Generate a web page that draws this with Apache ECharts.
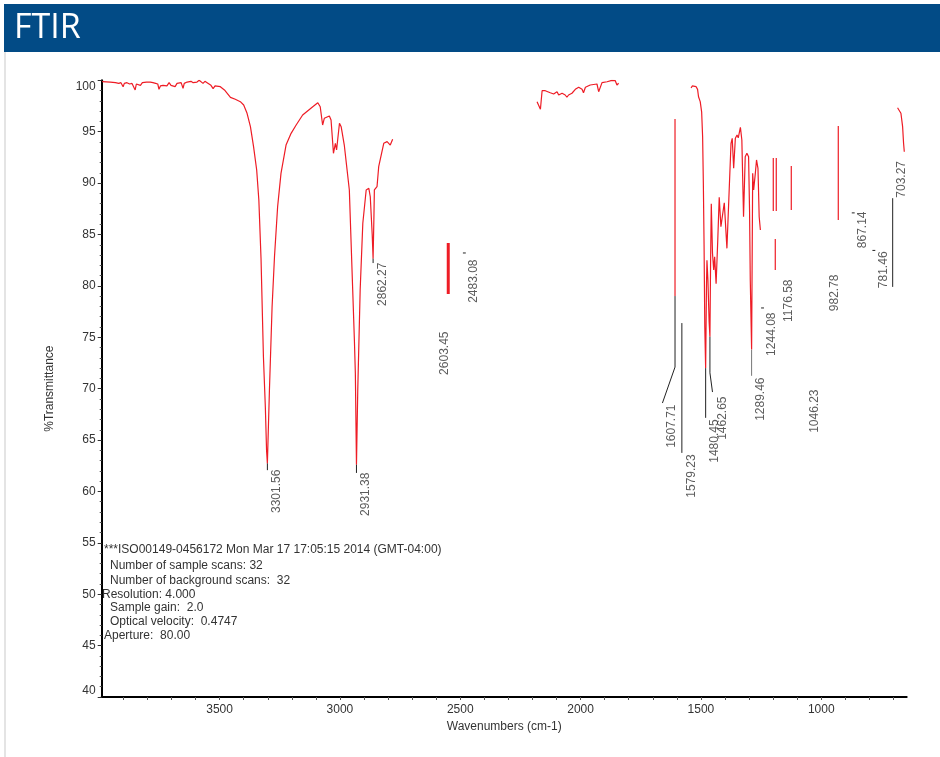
<!DOCTYPE html>
<html><head><meta charset="utf-8">
<script src="https://cdn.jsdelivr.net/npm/echarts@6/dist/echarts.min.js"></script>
<style>html,body{margin:0;padding:0;background:#fff}#c{width:940px;height:757px}</style>
</head><body><div id="c"></div>
<script>
// ---------- DATA ----------
const xLabelValues = [1000, 1500, 2000, 2500, 3000, 3500];
const xTickValues = [700,800,900,1000,1100,1200,1300,1400,1500,1600,1700,1800,1900,2000,2100,2200,2300,2400,2500,2600,2700,2800,2900,3000,3100,3200,3300,3400,3500,3600,3700,3800,3900];

// spectrum segments [wavenumber, %T]
const spectrumA = [[3988,99.87],[3954,99.83],[3933,99.77],[3919,99.70],[3910,99.77],[3901,99.38],[3896,99.70],[3885,99.77],[3874,99.64],[3864,99.70],[3857,99.54],[3851,99.06],[3846,99.64],[3838,99.70],[3829,99.51],[3821,99.77],[3813,99.61],[3804,99.83],[3796,99.64],[3788,99.83],[3777,99.77],[3766,99.70],[3757,99.64],[3752,99.12],[3746,99.45],[3735,99.51],[3727,99.70],[3719,99.45],[3710,99.77],[3702,99.51],[3694,99.70],[3685,99.38],[3677,99.70],[3669,99.54],[3660,99.77],[3652,99.22],[3647,99.70],[3641,99.54],[3635,99.83],[3627,99.64],[3619,99.90],[3610,99.77],[3602,99.96],[3594,99.83],[3585,100.0],[3577,99.90],[3569,99.70],[3561,99.90],[3552,99.77],[3544,99.70],[3536,99.51],[3527,99.19],[3519,99.45],[3511,99.51],[3497,99.38],[3480,99.06],[3455,98.34],[3435,98.15],[3414,97.92],[3400,97.60],[3386,96.79],[3372,95.49],[3359,93.54],[3346,91.27],[3337,88.35],[3328,82.7],[3318,73.1],[3310,68.2],[3305,64.0],[3301.56,62.73],[3293,69.87],[3282,77.97],[3272,82.84],[3259,87.70],[3245,90.95],[3224,93.70],[3203,94.84],[3182,95.65],[3155,96.62],[3113,97.43],[3092,97.82],[3082,97.43],[3072,95.65],[3065,96.30],[3044,96.53],[3037,96.14],[3027,92.90],[3019,93.87],[3014,93.22],[3002,95.82],[2995,95.49],[2982,93.70],[2975,93.54],[2961,89.33],[2947,79.60],[2940,74.73],[2936,71.5],[2931.38,62.6],[2926,69.87],[2916,79.60],[2905,86.09],[2891,89.33],[2880,89.49],[2874,88.67],[2866,85.0],[2862.27,82.65],[2859,86.5],[2857,89.33],[2846,89.65],[2839,91.59],[2818,93.87],[2804,94.03],[2791,93.70],[2781,94.26]];
const spectrumB = [[2181,97.92],[2175,97.76],[2167,97.18],[2160,98.99],[2147,98.99],[2140,99.12],[2126,98.79],[2112,98.67],[2098,98.89],[2091,98.57],[2077,98.74],[2064,98.57],[2057,98.35],[2050,98.57],[2036,98.74],[2022,99.12],[2008,99.32],[1994,99.12],[1988,98.79],[1980,99.32],[1960,99.54],[1932,99.64],[1925,98.89],[1911,99.77],[1890,99.86],[1870,99.99],[1856,99.96],[1849,99.54],[1842,99.71]];
const spectrumC = [[1541,99.25],[1536,99.45],[1530,99.45],[1520,99.38],[1514,99.12],[1510,98.40],[1503,97.92],[1497,96.9],[1493,94.5],[1490,90.0],[1487,84.0],[1484,76.0],[1480.45,72.0],[1477,80.0],[1475,82.5],[1471,80.57],[1466,76.5],[1462.65,75.05],[1460,82.0],[1457,88.0],[1452,83.17],[1447,81.54],[1443,82.84],[1437,80.2],[1430,84.5],[1424,88.62],[1417,85.76],[1410,85.6],[1403,88.09],[1392,83.65],[1384,88.5],[1375,93.87],[1370,94.36],[1364,91.44],[1357,94.36],[1350,94.68],[1345,94.4],[1336,95.43],[1330,94.19],[1323,86.73],[1316,92.57],[1309,92.9],[1302,92.57],[1298,87.38],[1295,80.57],[1289.46,73.8],[1285,90.95],[1281,89.33],[1274,90.95],[1269,92.25],[1263,91.44],[1258,86.73],[1253,85.43]];
const spectrumD = [[683,97.33],[669,96.79],[662,95.49],[658,93.87],[655,93.05]];

// red vertical marks [wavenumber, %T top, %T bottom]
const redMarks = [[1607.71,96.23,79.01],[1199.4,92.44,87.28],[1187.0,92.44,87.28],[1191.1,84.56,81.54],[1124.6,91.66,87.38],[929.3,95.55,86.41]];
const heavyRedMarks = [[2550,84.17,79.21]];

// peak leader paths
const leaderPaths = [
  [[3301.56,62.73],[3301.56,62.07]],
  [[2931.38,62.6],[2931.38,61.8]],
  [[2862.27,82.65],[2862.27,82.22]],
  [[1607.71,79.01],[1607.71,72.10],[1660,68.6]],
  [[1579.23,76.38],[1579.23,63.75]],
  [[1480.45,72.0],[1480.45,67.16]],
  [[1462.65,75.05],[1462.65,71.54],[1452,69.67]],
  [[703.27,79.9],[703.27,88.53]]
];
const greyLeaderPaths = [[[1289.46,73.8],[1289.46,71.25]]];
const dashMarks = [[2483.08,83.2],[1244.08,77.85],[867.14,87.1],[781.46,83.45]];

// peak labels [text, anchor wavenumber, anchor %T]
const peakLabels = [
  ['3301.56',3301.56,62.07],['2931.38',2931.38,61.79],['2862.27',2862.27,82.22],
  ['2603.45',2603.45,75.51],['2483.08',2483.08,82.52],['1607.71',1660,68.41],
  ['1579.23',1579.23,63.56],['1480.45',1480.45,66.96],['1462.65',1449,69.19],
  ['1289.46',1289.46,71.04],['1244.08',1244.08,77.36],['1176.58',1176.58,80.57],
  ['1046.23',1066,69.87],['982.78',982.78,81.06],['867.14',867.14,87.19],
  ['781.46',781.46,83.30],['703.27',703.27,88.53]
];
const upwardLabels = ['703.27'];

const infoLines = [
  '***ISO00149-0456172 Mon Mar 17 17:05:15 2014 (GMT-04:00)',
  'Number of sample scans: 32',
  'Number of background scans:  32',
  'Resolution: 4.000',
  'Sample gain:  2.0',
  'Optical velocity:  0.4747',
  'Aperture:  80.00'
];

// ---------- CHART ----------
const RED = '#ee1c25';
const FONT = '"Liberation Sans", Arial, sans-serif';
const DASH_HALF = 6;
const chart = echarts.init(document.getElementById('c'));
const series = [];
[spectrumA, spectrumB, spectrumC, spectrumD].forEach(seg => series.push({
  type:'line', data:seg, symbol:'none', silent:true, lineStyle:{color:RED,width:1.2}
}));
redMarks.forEach(m => series.push({type:'line', data:[[m[0],m[1]],[m[0],m[2]]], symbol:'none', silent:true, lineStyle:{color:RED,width:1.2}}));
heavyRedMarks.forEach(m => series.push({type:'line', data:[[m[0],m[1]],[m[0],m[2]]], symbol:'none', silent:true, lineStyle:{color:RED,width:3}}));
leaderPaths.forEach(p => series.push({type:'line', data:p, symbol:'none', silent:true, lineStyle:{color:'#222',width:1}}));
greyLeaderPaths.forEach(p => series.push({type:'line', data:p, symbol:'none', silent:true, lineStyle:{color:'#777',width:1}}));
dashMarks.forEach(d => series.push({type:'line', data:[[d[0]+DASH_HALF,d[1]],[d[0]-DASH_HALF,d[1]]], symbol:'none', silent:true, lineStyle:{color:'#222',width:1}}));
series.push({
  type:'scatter', symbolSize:1, silent:true, itemStyle:{color:'transparent'},
  data: peakLabels.map(p => {
    const it = {name:p[0], value:[p[1],p[2]]};
    if (upwardLabels.includes(p[0])) it.label = {align:'left'};
    return it;
  }),
  label:{show:true, formatter:'{b}', position:[4,0], rotate:90, align:'right', verticalAlign:'top', color:'#333', fontSize:12, fontFamily:FONT}
});

const graphics = [
  {type:'rect', left:4, top:4, shape:{width:936,height:48}, style:{fill:'#024b86'}, silent:true},
  {type:'text', x:14, y:28, style:{text:'FTIR', fill:'#fff', fontSize:34, fontFamily:'"Open Sans", "Liberation Sans", sans-serif', verticalAlign:'middle'}},
  {type:'rect', left:4, top:52, shape:{width:2,height:705}, style:{fill:'#e4e4e4'}, silent:true}
];
const infoX = [104,110,110,102,110,110,104];
const infoY = [550,566,581,595,608,622,636];
infoLines.forEach((t,i) => graphics.push({type:'text', x:infoX[i], y:infoY[i], z:10,
  style:{text:t, fill:'#333', fontSize:12, fontFamily:FONT, verticalAlign:'middle'}}));

chart.setOption({
  animation:false,
  backgroundColor:'#fff',
  grid:{left:101.7, right:33.3, top:80.3, bottom:60},
  xAxis:{
    type:'value', inverse:true, min:645, max:3990,
    name:'Wavenumbers (cm-1)', nameLocation:'middle', nameGap:24,
    nameTextStyle:{color:'#333', fontSize:12, fontFamily:FONT},
    axisLine:{show:true, onZero:false, lineStyle:{color:'#000', width:2}},
    axisTick:{show:true, customValues:xTickValues, length:3, lineStyle:{color:'#555'}},
    axisLabel:{customValues:xLabelValues, formatter: v => String(v), color:'#333', fontSize:12, margin:7, fontFamily:FONT},
    splitLine:{show:false}
  },
  yAxis:{
    type:'value', min:40, max:100, interval:5,
    name:'%Transmittance', nameLocation:'middle', nameGap:46,
    nameTextStyle:{color:'#333', fontSize:12, fontFamily:FONT},
    axisLine:{show:true, lineStyle:{color:'#000', width:2}},
    axisTick:{show:true, length:4, lineStyle:{color:'#333'}},
    minorTick:{show:true, splitNumber:5, length:2, lineStyle:{color:'#555'}},
    axisLabel:{color:'#333', fontSize:12, margin:6, fontFamily:FONT, verticalAlignMaxLabel:'top', verticalAlignMinLabel:'bottom'},
    splitLine:{show:false}
  },
  graphic: graphics,
  series: series
});
</script></body></html>
